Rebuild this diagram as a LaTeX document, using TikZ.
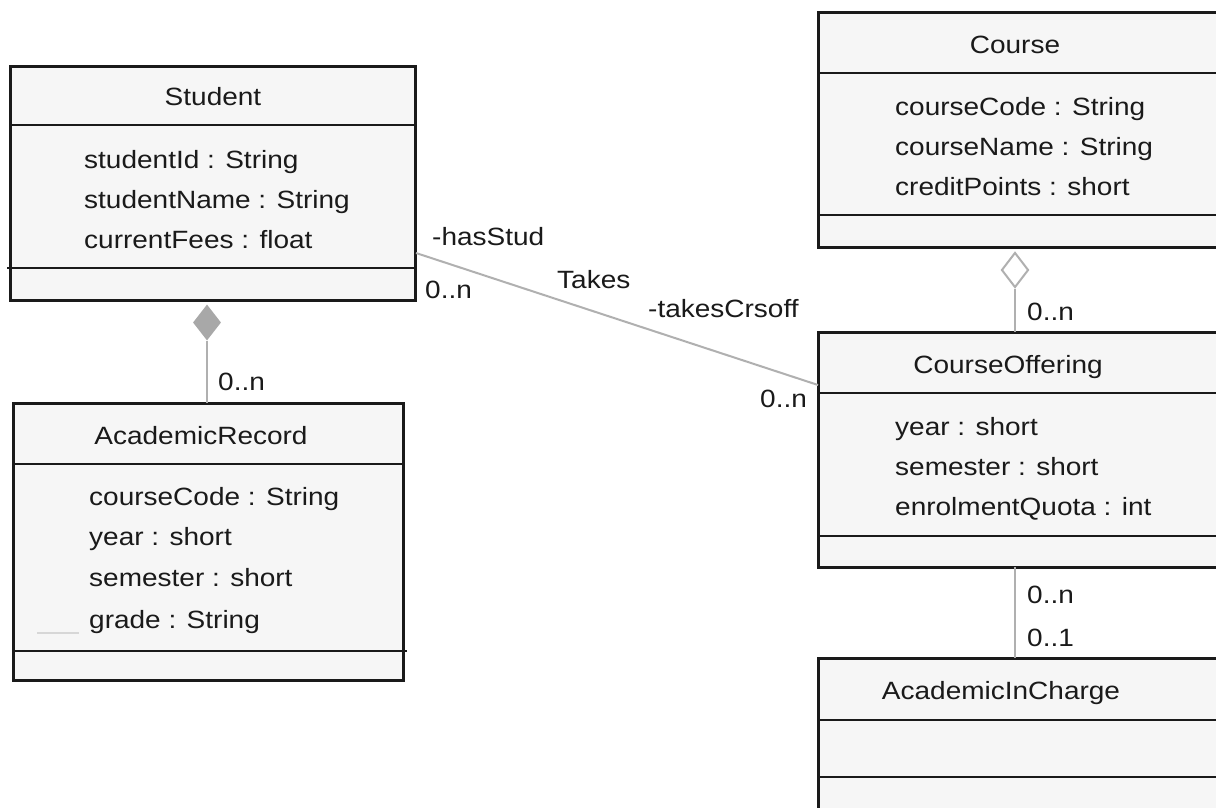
\documentclass[tikz,border=0pt]{standalone}
\usepackage{fontspec}
\setmainfont[FakeStretch=1.12]{Liberation Sans}
\usetikzlibrary{shapes.geometric}
\definecolor{boxfill}{HTML}{F6F6F6}
\definecolor{ink}{HTML}{1A1A1A}
\definecolor{connline}{HTML}{B0B0B0}
\definecolor{diamondfill}{HTML}{A8A8A8}
\begin{document}
\begin{tikzpicture}[x=1pt,y=-1pt,
  classbox/.style={draw=ink, fill=boxfill, line width=3pt, rectangle,
    inner sep=0pt, outer sep=0pt, anchor=north west},
  sepline/.style={draw=ink, line width=2.8pt},
  txt/.style={font=\fontsize{25}{30}\selectfont, text=ink, inner sep=0pt, anchor=base west},
  ttl/.style={txt, anchor=base},
  assoc/.style={draw=connline, line width=2pt},
]
\useasboundingbox (0,0) rectangle (1216,807);
\fill[white] (0,0) rectangle (1216,807);
\clip (0,0) rectangle (1216,807);

% ---- Student ----
\node[classbox, minimum width=405pt, minimum height=234pt] (student) at (10,66) {};
\draw[sepline] (10,125) -- (415,125);
\draw[sepline] (7,268) -- (415,268);
\node[ttl] (studentT) at (213,105) {Student};
\node[txt] (s1) at (84,168) {studentId : String};
\node[txt] (s2) at (84,208) {studentName : String};
\node[txt] (s3) at (84,248) {currentFees : float};

% ---- AcademicRecord ----
\node[classbox, minimum width=390pt, minimum height=277pt] (record) at (13,403) {};
\draw[sepline] (13,464) -- (403,464);
\draw[sepline] (13,651) -- (407,651);
\node[ttl] (recordT) at (201,444) {AcademicRecord};
\node[txt] (r1) at (89,505) {courseCode : String};
\node[txt] (r2) at (89,545) {year : short};
\node[txt] (r3) at (89,586) {semester : short};
\node[txt] (r4) at (89,628) {grade : String};
\draw[connline!50, line width=1.5pt] (37,633) -- (79,633);

% ---- Course ----
\node[classbox, minimum width=407pt, minimum height=235pt] (course) at (818,12) {};
\draw[sepline] (818,73) -- (1225,73);
\draw[sepline] (818,215) -- (1225,215);
\node[ttl] (courseT) at (1015,53) {Course};
\node[txt] (c1) at (895,115) {courseCode : String};
\node[txt] (c2) at (895,155) {courseName : String};
\node[txt] (c3) at (895,195) {creditPoints : short};

% ---- CourseOffering ----
\node[classbox, minimum width=407pt, minimum height=235pt] (offer) at (818,332) {};
\draw[sepline] (818,393) -- (1225,393);
\draw[sepline] (818,536) -- (1225,536);
\node[ttl] (offerT) at (1008,373) {CourseOffering};
\node[txt] (o1) at (895,435) {year : short};
\node[txt] (o2) at (895,475) {semester : short};
\node[txt] (o3) at (895,515) {enrolmentQuota : int};

% ---- AcademicInCharge ----
\node[classbox, minimum width=407pt, minimum height=180pt] (incharge) at (818,658) {};
\draw[sepline] (818,720) -- (1225,720);
\draw[sepline] (818,777) -- (1225,777);
\node[ttl] (inchargeT) at (1001,699) {AcademicInCharge};

% ---- composition Student <>-- AcademicRecord ----
\node[diamond, fill=diamondfill, minimum width=28pt, minimum height=36pt,
      inner sep=0pt] (comp) at (207,322.5) {};
\draw[assoc] (comp.south) -- (comp.south |- record.north);
\node[txt] (m1) at (218,390) {0..n};

% ---- aggregation Course <>-- CourseOffering ----
\node[diamond, draw=connline, fill=white, line width=2pt, minimum width=27pt,
      minimum height=35pt, inner sep=0pt] (agg) at (1015,270) {};
\draw[assoc] (agg.south) -- (agg.south |- offer.north);
\node[txt] (m2) at (1027,320) {0..n};

% ---- CourseOffering -- AcademicInCharge ----
\draw[assoc] (agg.south |- offer.south) -- (agg.south |- incharge.north);
\node[txt] (m3) at (1027,603) {0..n};
\node[txt] (m4) at (1027,646) {0..1};

% ---- association Takes ----
\coordinate (hasEnd) at (416,253);
\coordinate (takesEnd) at (818,385);
\draw[assoc] (hasEnd) -- (takesEnd);
\node[txt] (roleA) at (432,245) {-hasStud};
\node[txt] (multA) at (425,298) {0..n};
\node[txt] (assocName) at (557,288) {Takes};
\node[txt] (roleB) at (648,317) {-takesCrsoff};
\node[txt] (multB) at (760,407) {0..n};
\end{tikzpicture}
\end{document}
